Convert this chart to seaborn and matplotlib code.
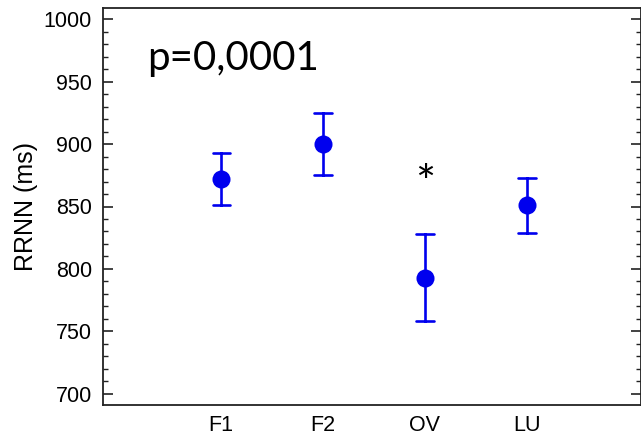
import numpy as np
import pandas as pd
import matplotlib
matplotlib.use("Agg")
import matplotlib.pyplot as plt
import seaborn as sns
from matplotlib.ticker import MultipleLocator

categories = ["F1", "F2", "OV", "LU"]
means = [872, 900, 793, 851]
errors = [21, 25, 35, 22]
y_ticks = [700, 750, 800, 850, 900, 950, 1000]
p_text = "p=0,0001"
star_text = "*"
star_cat = "OV"
star_y = 867

sns.set_style("ticks")
plt.rcParams["font.family"] = ["Liberation Sans", "DejaVu Sans"]
plt.rcParams["text.color"] = "black"
plt.rcParams["axes.labelcolor"] = "black"
plt.rcParams["xtick.color"] = "black"
plt.rcParams["ytick.color"] = "black"

rows = []
for c, m, e in zip(categories, means, errors):
    rows.append({"group": c, "RRNN": m - e})
    rows.append({"group": c, "RRNN": m + e})
df = pd.DataFrame(rows)

fig = plt.figure(figsize=(6.41, 4.41), dpi=100)
ax = fig.add_axes([103 / 641, 1 - 405 / 441, 1 - 103 / 641, (405 - 8) / 441])

sns.pointplot(data=df, x="group", y="RRNN", order=categories, estimator="mean",
              errorbar=("pi", 100), linestyle="none", color="#0000ee",
              markersize=13, markeredgewidth=0, capsize=0.17,
              err_kws={"linewidth": 1.9}, ax=ax)

ax.set_xlim(-1.16, 4.12)
ax.set_ylim(691, 1009)
ax.set_yticks(y_ticks)
ax.yaxis.set_minor_locator(MultipleLocator(10))
ax.tick_params(axis="y", which="major", direction="in", left=True, right=True,
               length=7, width=1.2, labelsize=15.5, pad=8, color="#222222")
ax.tick_params(axis="y", which="minor", direction="in", left=True, right=True,
               length=3.5, width=1.0, color="#222222")
ax.tick_params(axis="x", length=0, labelsize=15.5, pad=7)
for s in ax.spines.values():
    s.set_linewidth(1.3)
    s.set_color("#222222")
ax.set_xlabel("")
ax.set_ylabel("RRNN (ms)", fontsize=18, labelpad=4)

ax.text((147 - 103) / 538, (405 - 70) / 397, p_text, transform=ax.transAxes,
        ha="left", va="baseline", fontsize=29, color="black",
        family=["Lato", "DejaVu Sans"])
ax.text(categories.index(star_cat), star_y, star_text, ha="center", va="center",
        fontsize=34, color="black", family=["Lato", "DejaVu Sans"])

fig.savefig("out.png", dpi=100)
